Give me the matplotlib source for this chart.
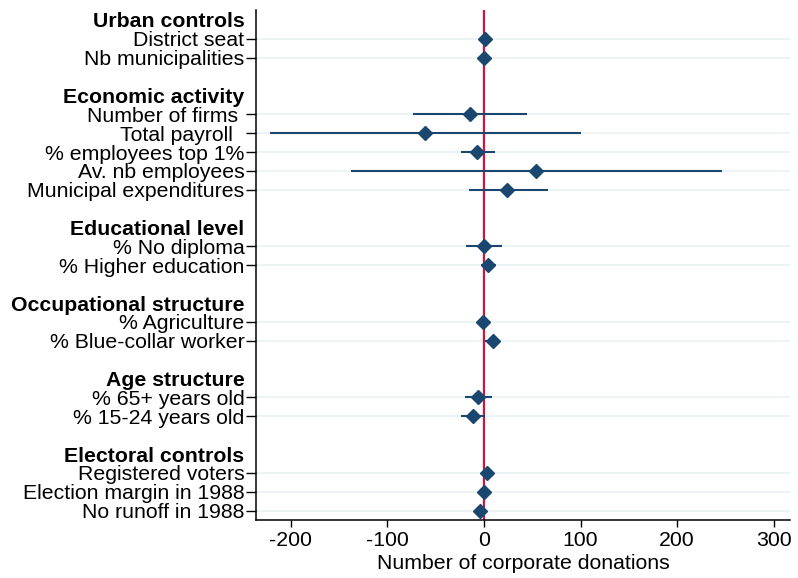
import numpy as np
import matplotlib.pyplot as plt

plt.rcParams['font.family'] = ['Liberation Sans', 'DejaVu Sans']

# Groups and variables, top to bottom
groups = ["Urban controls", "Economic activity", "Educational level",
          "Occupational structure", "Age structure", "Electoral controls"]
labels = [
    ["District seat", "Nb municipalities"],
    ["Number of firms ", "Total payroll  ", "% employees top 1%",
     "Av. nb employees", "Municipal expenditures"],
    ["% No diploma", "% Higher education"],
    ["% Agriculture", "% Blue-collar worker"],
    ["% 65+ years old", "% 15-24 years old"],
    ["Registered voters", "Election margin in 1988", "No runoff in 1988"],
]
coef = [
    [0.7, 0.0],
    [-14.7, -61.0, -7.0, 54.0, 24.0],
    [0.0, 4.0],
    [-1.0, 9.0],
    [-6.0, -11.5],
    [3.0, 0.0, -4.0],
]
ci_low = [
    [-1.0, -1.5],
    [-74.0, -222.0, -24.0, -138.0, -16.0],
    [-19.0, -3.0],
    [-3.0, 1.4],
    [-20.0, -24.0],
    [0.5, -2.0, -6.0],
]
ci_high = [
    [2.0, 1.5],
    [45.0, 100.0, 11.0, 247.0, 66.0],
    [19.0, 12.0],
    [1.5, 17.0],
    [8.0, 1.4],
    [5.0, 2.0, -2.0],
]

navy = '#1a476f'
red = '#d2143c'
fs = 15.3

fig = plt.figure(figsize=(7.98, 5.78), dpi=100)
ax = fig.add_axes([0.321, 0.100, 0.669, 0.883])

# lay out rows: header, items, blank spacer
tick_pos, tick_lab, is_header = [], [], []
item_y, item_c, item_lo, item_hi = [], [], [], []
row = 0
for g, labs, c, lo, hi in zip(groups, labels, coef, ci_low, ci_high):
    tick_pos.append(row)
    tick_lab.append(g)
    is_header.append(True)
    row += 1
    for lab, cc, l, h in zip(labs, c, lo, hi):
        tick_pos.append(row)
        tick_lab.append(lab)
        is_header.append(False)
        item_y.append(row)
        item_c.append(cc)
        item_lo.append(l)
        item_hi.append(h)
        row += 1
    row += 1
last_row = row - 2

for y in item_y:
    ax.axhline(y, color='#eaf2f3', lw=1.3, zorder=0)

ax.axvline(0, color=red, lw=1.6, zorder=2)
ax.hlines(item_y, item_lo, item_hi, color=navy, lw=1.5, zorder=3)
ax.plot(item_c, item_y, 'D', color=navy, ms=7, zorder=4, linestyle='none')

ax.set_ylim(last_row + 0.5, -0.53)
ax.set_xlim(-236, 317)
ax.set_xticks([-200, -100, 0, 100, 200, 300])
ax.set_xticklabels(['-200', '-100', '0', '100', '200', '300'])
ax.set_yticks(tick_pos)
ax.set_yticklabels(tick_lab)
ax.tick_params(axis='y', length=7.5, width=1, pad=1, labelsize=fs)
ax.tick_params(axis='x', length=5, width=1, pad=3, labelsize=fs)
for t, lab, h in zip(ax.yaxis.get_major_ticks(), ax.get_yticklabels(), is_header):
    if h:
        t.tick1line.set_visible(False)
        lab.set_fontweight('bold')

ax.set_xlabel("Number of corporate donations", fontsize=fs, labelpad=3)
ax.spines['top'].set_visible(False)
ax.spines['right'].set_visible(False)
ax.spines['left'].set_linewidth(1.1)
ax.spines['bottom'].set_linewidth(1.1)

plt.savefig("out.png", dpi=100)
